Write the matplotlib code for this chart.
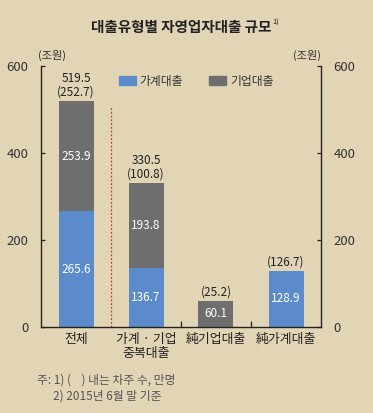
import numpy as np
import matplotlib.pyplot as plt
from matplotlib.patches import Patch

plt.rcParams['font.family'] = ['Noto Sans CJK KR', 'DejaVu Sans']

categories = ["전체", "가계 · 기업\n중복대출", "純기업대출", "純가계대출"]
household = [265.6, 136.7, 0, 128.9]
business = [253.9, 193.8, 60.1, 0]
totals = ["519.5", "330.5", "", ""]
borrowers = ["(252.7)", "(100.8)", "(25.2)", "(126.7)"]
yticks = [0, 200, 400, 600]

bg = '#e2d5b6'
blue = '#5b8bcb'
grey = '#6e6e6e'

fig = plt.figure(figsize=(3.73, 4.13), dpi=100, facecolor=bg)
ax = fig.add_axes([41 / 373, 1 - 327 / 413, 280 / 373, 261 / 413])
ax.set_facecolor(bg)

x = np.arange(len(categories))
hh = np.array(household)
bz = np.array(business)
ax.bar(x, hh, width=0.5, color=blue, label="가계대출")
ax.bar(x, bz, width=0.5, bottom=hh, color=grey, label="기업대출")

# values inside bars
for i in range(len(x)):
    if hh[i] > 0:
        ax.text(x[i], hh[i] / 2, f"{hh[i]:.1f}", ha='center', va='center',
                color='white', fontsize=8.5, fontweight='medium')
    if bz[i] > 0:
        ax.text(x[i], hh[i] + bz[i] / 2, f"{bz[i]:.1f}", ha='center', va='center',
                color='white', fontsize=8.5, fontweight='medium')
    top = hh[i] + bz[i]
    lbl = borrowers[i] if totals[i] == "" else totals[i] + "\n" + borrowers[i]
    ax.annotate(lbl, (x[i], top), xytext=(0, 2), textcoords='offset points',
                ha='center', va='bottom', fontsize=8.5, color='#222222',
                linespacing=1.0)

ax.vlines(0.5, 0, 505, colors='#d23a2e', linestyles=(0, (1.5, 1.5)), linewidth=0.9)

ax.set_xlim(-0.5, 3.5)
ax.set_ylim(0, 600)
ax.set_xticks(x)
ax.set_xticklabels(categories, fontsize=9.3, color='#222222', linespacing=1.15)
ax.set_xticks([1.5, 2.5], minor=True)
ax.tick_params(axis='x', which='major', length=0, pad=4)
ax.tick_params(axis='x', which='minor', direction='in', length=4, width=0.9, color='#222222')

ax.set_yticks(yticks)
ax.tick_params(axis='y', direction='in', length=3, width=0.9, color='#222222',
               labelsize=9.5, labelcolor='#333333', pad=9,
               left=True, right=True, labelleft=True, labelright=True)

ax.spines['top'].set_visible(False)
for s in ['left', 'right', 'bottom']:
    ax.spines[s].set_color('#222222')
    ax.spines[s].set_linewidth(1.0)

title = fig.text(0.485, 1 - 27 / 413, "대출유형별 자영업자대출 규모", ha='center', va='center',
                 fontsize=10.5, fontweight='bold', color='#222222')
fig.canvas.draw()
bb = title.get_window_extent().transformed(fig.transFigure.inverted())
fig.text(bb.x1 + 0.003, 1 - 23 / 413, "1)", ha='left', va='center',
         fontsize=5.5, color='#222222')
fig.text(52 / 373, 1 - 55 / 413, "(조원)", ha='center', va='center', fontsize=8, color='#333333')
fig.text(307 / 373, 1 - 55 / 413, "(조원)", ha='center', va='center', fontsize=8, color='#333333')

handles = [Patch(color=blue, label="가계대출"), Patch(color=grey, label="기업대출")]
fig.legend(handles=handles, loc='center left', bbox_to_anchor=(108 / 373, 1 - 81 / 413),
           ncol=2, frameon=False, fontsize=8.5, handlelength=1.45, handleheight=0.7,
           handletextpad=0.35, columnspacing=2.2, labelcolor='#333333')

fig.text(37 / 373, 1 - 380 / 413, "주: 1) (    ) 내는 차주 수, 만명", ha='left', va='center',
         fontsize=8.5, color='#555555')
fig.text(53 / 373, 1 - 396 / 413, "2) 2015년 6월 말 기준", ha='left', va='center',
         fontsize=8.5, color='#555555')

fig.savefig('out.png', dpi=100, facecolor=bg)
